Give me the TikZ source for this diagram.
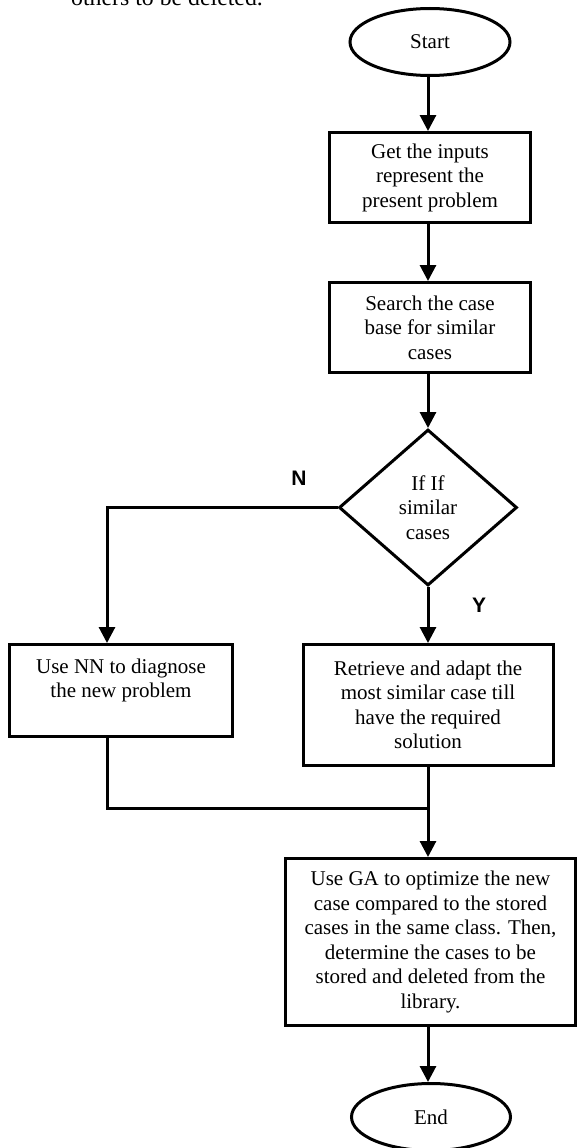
\documentclass[tikz,border=0pt]{standalone}
\usepackage{fontspec}
\setmainfont{Liberation Serif}
\newfontfamily\labelfont{Liberation Sans}
\usetikzlibrary{shapes.geometric,arrows.meta}
\begin{document}
\begin{tikzpicture}[x=1pt,y=-1pt,
  every node/.style={font=\fontsize{21}{24.5}\selectfont, align=center, inner sep=0pt},
  box/.style={draw, line width=3pt, rectangle},
  oval/.style={draw, line width=3pt, ellipse},
  dec/.style={draw, line width=3pt, diamond},
  conn/.style={line width=3pt},
  arr/.style={line width=3pt, -{Triangle[width=16pt,length=16pt]}},
  lab/.style={font=\labelfont\bfseries\fontsize{21}{24}\selectfont}]
\useasboundingbox (0,0) rectangle (578,1148);
\clip (0,0) rectangle (578,1148);

% clipped paragraph line at the top
\node[anchor=base west, font=\fontsize{23.8}{28}\selectfont] (para) at (71,6) {others to be deleted.};

\node[oval, minimum width=160pt, minimum height=67pt] (start) at (430,42) {Start};
\node[box, minimum width=201pt, minimum height=90pt] (b1) at (430,177.5) {Get the inputs\\represent the\\present problem};
\node[box, minimum width=201pt, minimum height=90pt] (b2) at (430,327.5) {Search the case\\base for similar\\cases};
\node[dec, minimum width=178pt, minimum height=156pt] (d) at (428,507.5) {If If\\similar\\cases};
\node[box, minimum width=223pt, minimum height=92pt] (nn) at (121,690.5) {Use NN to diagnose\\the new problem\\\mbox{}};
\node[box, minimum width=250pt, minimum height=121pt] (ret) at (428,705) {Retrieve and adapt the\\most similar case till\\have the required\\solution};
\node[box, minimum width=290pt, minimum height=167pt] (ga) at (430.5,942) {Use GA to optimize the new\\case compared to the stored\\cases in the same class. Then,\\determine the cases to be\\stored and deleted from the\\library.};
\node[oval, minimum width=159pt, minimum height=67pt] (end) at (431,1117) {End};

\node[lab] (nlab) at (299,478) {N};
\node[lab] (ylab) at (479,605) {Y};

\coordinate (j) at (428,808);

\draw[arr] (start.south -| d.north) -- (b1.north -| d.north);
\draw[arr] (b1.south -| d.north) -- (b2.north -| d.north);
\draw[arr] (b2.south -| d.north) -- (d.north);
\draw[arr] (d.west) -| ([xshift=-14pt]nn.north);
\draw[arr] (d.south) -- (ret.north -| d.south);
\draw[conn] ([xshift=-14pt]nn.south) |- (j);
\draw[conn] (ret.south -| j) -- (j);
\draw[arr] (j) -- (ga.north -| j);
\draw[arr] (ga.south -| j) -- (end.north -| j);
\end{tikzpicture}
\end{document}
